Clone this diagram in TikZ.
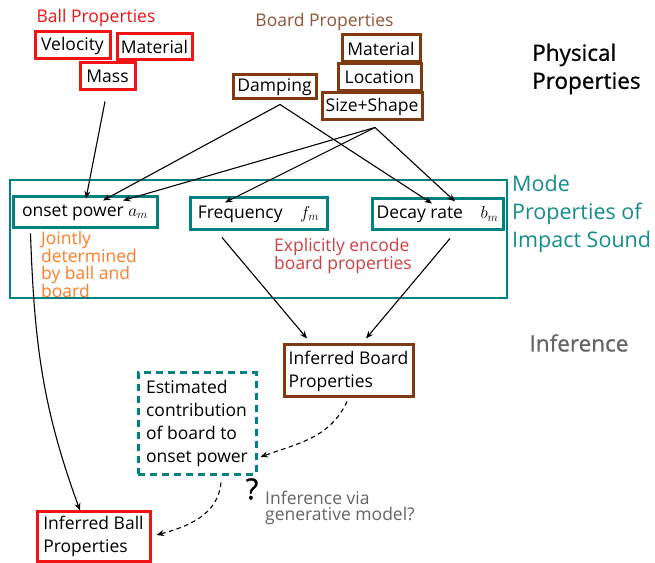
\documentclass[tikz,border=0pt]{standalone}
\usepackage{fontspec}
\setmainfont{Open Sans}
\newfontfamily\headfam[FakeBold=0.8]{Open Sans}
\usetikzlibrary{arrows.meta,calc}
\definecolor{ballred}{RGB}{240,20,20}
\definecolor{boardbrown}{RGB}{128,58,18}
\definecolor{boardtext}{RGB}{145,85,55}
\definecolor{tealc}{RGB}{0,130,128}
\definecolor{tealtext}{RGB}{20,140,138}
\definecolor{orangec}{RGB}{255,125,40}
\definecolor{encred}{RGB}{205,65,70}
\definecolor{grayc}{RGB}{100,100,100}
\tikzset{
  boxfont/.style={font=\fontsize{17.5}{20}\selectfont},
  ballbox/.style={draw=ballred, line width=3pt, boxfont, inner sep=0pt},
  boardbox/.style={draw=boardbrown, line width=3pt, boxfont, inner sep=0pt},
  modebox/.style={draw=tealc, line width=3pt, boxfont, inner sep=0pt},
  arr/.style={-{Stealth[length=7.5pt,width=6pt]}, line width=1.1pt},
  darr/.style={-{Stealth[length=7.5pt,width=6pt]}, line width=1.1pt, dash pattern=on 4.5pt off 3.5pt},
  headfont/.style={font=\headfam\fontsize{22.5}{28}\selectfont},
  modefont/.style={font=\fontsize{21.5}{28}\selectfont},
}
\begin{document}
\begin{tikzpicture}[x=1pt,y=1pt]
\useasboundingbox (0,0) rectangle (655,562);
% Ball properties
\node[text=ballred, boxfont] (balltitle) at (96,544) {Ball Properties};
\node[ballbox, minimum width=75pt, minimum height=27pt] (velocity) at (72.5,516.5) {Velocity};
\node[ballbox, minimum width=75pt, minimum height=26pt] (ballmat) at (154.5,515) {Material};
\node[ballbox, minimum width=55pt, minimum height=27pt] (mass) at (107.5,485.5) {Mass};
% Board properties
\node[text=boardtext, boxfont] (boardtitle) at (324.5,540) {Board Properties};
\node[boardbox, minimum width=78pt, minimum height=27pt] (boardmat) at (381,513.5) {Material};
\node[boardbox, minimum width=83pt, minimum height=27pt] (location) at (379.5,484.5) {Location};
\node[boardbox, minimum width=100pt, minimum height=27pt] (sizeshape) at (372,455.5) {Size+Shape};
\node[boardbox, minimum width=83pt, minimum height=24pt] (damping) at (274.5,475) {Damping};
% Physical properties label
\node[headfont, align=left, anchor=west, inner sep=0pt] (physical) at (532,493) {Physical\\Properties};
% Mode box
\node[draw=tealc, line width=1.5pt, minimum width=497pt, minimum height=118pt, inner sep=0pt] (modeframe) at (258.5,323) {};
\node[modefont, text=tealtext, align=left, anchor=west, inner sep=0pt] (modelabel) at (512,348) {Mode\\Properties of\\Impact Sound};
\node[modebox, minimum width=144pt, minimum height=31pt] (onset) at (85,349.5) {onset power $a_m$};
\node[modebox, minimum width=137pt, minimum height=32pt] (freq) at (258.5,348) {Frequency\quad $f_m$};
\node[modebox, minimum width=131pt, minimum height=31pt] (decay) at (437.5,347.5) {Decay rate\quad $b_m$};
\node[text=orangec, align=left, anchor=north west, inner sep=0pt, font=\fontsize{17.5}{16.5}\selectfont] (jointly) at (41,331) {Jointly\\determined\\by ball and\\board};
\node[text=encred, align=left, anchor=north west, inner sep=0pt, font=\fontsize{17.5}{17}\selectfont] (explicit) at (274,324) {Explicitly encode\\board properties};
% Inference
\node[headfont, text=grayc] (inference) at (579,219) {Inference};
\node[boardbox, minimum width=129pt, minimum height=52pt, align=left, font=\fontsize{17.5}{23}\selectfont] (infboard) at (348.5,191) {Inferred Board\\Properties};
\node[draw=tealc, line width=3pt, dash pattern=on 7pt off 5pt, minimum width=118pt, minimum height=101pt, inner sep=0pt, align=left, font=\fontsize{17.5}{22.7}\selectfont] (estimated) at (197,138.5) {Estimated\\contribution\\of board to\\onset power};
\node[ballbox, minimum width=113pt, minimum height=50pt, align=left, font=\fontsize{17.5}{23}\selectfont] (infball) at (93.5,26) {Inferred Ball\\Properties};
\node[font=\headfam\fontsize{29}{29}\selectfont] (qmark) at (252,73) {?};
\node[text=grayc, align=left, anchor=west, inner sep=0pt, font=\fontsize{17.5}{16.5}\selectfont] (genmodel) at (265,54) {Inference via\\generative model?};
% Arrows
\draw[arr] ($(mass.south)+(-2.5,-10)$) -- ($(onset.north)+(1,-3)$);
\draw[arr] ($(damping.south)+(5.5,-4)$) -- ($(onset.north)+(18,-5)$);
\draw[arr] ($(damping.south)+(5.5,-4)$) -- ($(decay.north)+(-5.5,-6)$);
\draw[arr] ($(sizeshape.south)+(3,-6)$) -- ($(onset.north)+(38,-5)$);
\draw[arr] ($(sizeshape.south)+(3,-6)$) -- ($(freq.north)+(-33.5,-6)$);
\draw[arr] ($(sizeshape.south)+(3,-6)$) -- ($(decay.north)+(17.5,-4)$);
\draw[arr] ($(onset.south west)+(19,-4)$) to[out=-88,in=110] ($(infball.north)+(-13.5,-1)$);
\draw[arr] ($(freq.south)+(-36.5,-6)$) -- ($(infboard.north)+(-41.5,5)$);
\draw[arr] ($(decay.south)+(12.5,-7)$) -- ($(infboard.north)+(17.5,5)$);
\draw[darr] ($(infboard.south)+(-1.5,-3)$) to[out=-115,in=20] ($(estimated.east)+(3,-33.5)$);
\draw[darr] ($(estimated.south)+(24,-7)$) to[out=-95,in=15] ($(infball.east)+(5,1)$);
\end{tikzpicture}
\end{document}
